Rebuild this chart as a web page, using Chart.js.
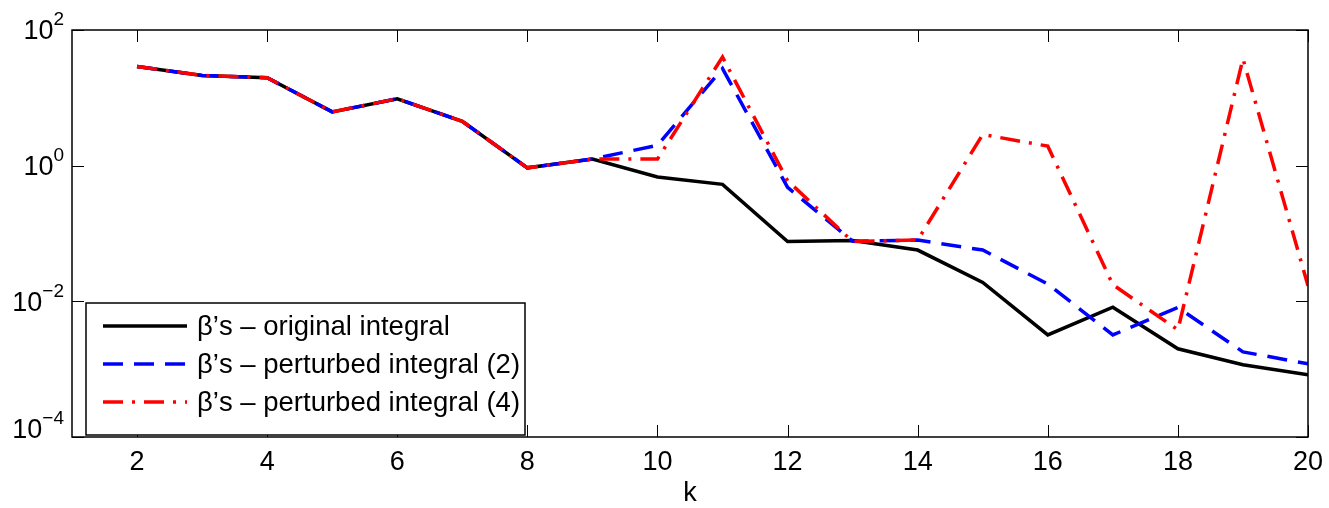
<!DOCTYPE html>
<html>
<head>
<meta charset="utf-8">
<script src="https://cdn.jsdelivr.net/npm/chart.js@4/dist/chart.umd.min.js"></script>
<style>
  body { margin: 0; background: #fff; }
  #wrap { width: 1329px; height: 508px; }
</style>
</head>
<body>
<div id="wrap"><canvas id="betaChart" width="1329" height="508"></canvas></div>
<script>
// Datos
const kValores = [2, 3, 4, 5, 6, 7, 8, 9, 10, 11, 12, 13, 14, 15, 16, 17, 18, 19, 20];
const betaOriginal = [29, 21.4, 19.8, 6.2, 9.7, 4.5, 0.93, 1.25, 0.68, 0.53, 0.076, 0.079, 0.057, 0.019, 0.0032, 0.0082, 0.002, 0.00116, 0.00083];
const betaPerturbado2 = [29, 21.4, 19.8, 6.2, 9.7, 4.5, 0.93, 1.25, 2.0, 27, 0.48, 0.077, 0.080, 0.057, 0.018, 0.0032, 0.0081, 0.0018, 0.0012];
const betaPerturbado4 = [29, 21.4, 19.8, 6.2, 9.7, 4.5, 0.93, 1.25, 1.25, 40, 0.6, 0.076, 0.080, 2.88, 1.94, 0.0176, 0.0038, 37.7, 0.017];

const ticksX = [2, 4, 6, 8, 10, 12, 14, 16, 18, 20];
const ticksY = [1e-4, 1e-2, 1e0, 1e2];
const exponentesY = ['\u22124', '\u22122', '0', '2'];
const etiquetasLeyenda = ['\u03b2\u2019s \u2013 original integral', '\u03b2\u2019s \u2013 perturbed integral (2)', '\u03b2\u2019s \u2013 perturbed integral (4)'];

const FUENTE = '"Liberation Sans", Arial, Helvetica, sans-serif';

function puntos(valores) {
    return kValores.map((k, i) => ({ x: k, y: valores[i] }));
}

// Dibuja marco, ticks hacia adentro, etiquetas y leyenda
const ejesMatlab = {
    id: 'ejesMatlab',
    afterDraw(chart) {
        const ctx = chart.ctx;
        const area = chart.chartArea;
        const sx = chart.scales.x;
        const sy = chart.scales.y;
        const largo = 12;

        ctx.save();
        ctx.strokeStyle = '#000';
        ctx.lineWidth = 1.5;
        ctx.setLineDash([]);
        ctx.strokeRect(area.left, area.top, area.right - area.left, area.bottom - area.top);

        ctx.lineWidth = 1;
        ctx.beginPath();
        ticksX.forEach(v => {
            const px = Math.round(sx.getPixelForValue(v)) + 0.5;
            ctx.moveTo(px, area.bottom); ctx.lineTo(px, area.bottom - largo);
            ctx.moveTo(px, area.top); ctx.lineTo(px, area.top + largo);
        });
        ticksY.forEach(v => {
            const py = Math.round(sy.getPixelForValue(v)) + 0.5;
            ctx.moveTo(area.left, py); ctx.lineTo(area.left + largo, py);
            ctx.moveTo(area.right, py); ctx.lineTo(area.right - largo, py);
        });
        ctx.stroke();

        // etiquetas eje x
        ctx.fillStyle = '#000';
        ctx.font = '27px ' + FUENTE;
        ctx.textAlign = 'center';
        ctx.textBaseline = 'middle';
        ticksX.forEach(v => {
            ctx.fillText(String(v), sx.getPixelForValue(v), area.bottom + 26);
        });
        ctx.fillText('k', (area.left + area.right) / 2, area.bottom + 57);

        // etiquetas eje y con exponente
        ticksY.forEach((v, i) => {
            let py = sy.getPixelForValue(v) + 2;
            if (i === 0) py -= 8;
            ctx.font = '19px ' + FUENTE;
            const ws = ctx.measureText(exponentesY[i]).width;
            const derecha = area.left - 8;
            ctx.textAlign = 'left';
            ctx.fillText(exponentesY[i], derecha - ws, py - 12);
            ctx.font = '27px ' + FUENTE;
            ctx.textAlign = 'right';
            ctx.fillText('10', derecha - ws, py);
        });

        // leyenda
        const lx = area.left + 14, ly = area.top + 273, lw = 439, lh = 132;
        ctx.fillStyle = '#fff';
        ctx.fillRect(lx, ly, lw, lh);
        ctx.strokeStyle = '#000';
        ctx.lineWidth = 1.5;
        ctx.strokeRect(lx, ly, lw, lh);
        chart.data.datasets.forEach((ds, i) => {
            const fy = ly + 23 + i * 38;
            ctx.strokeStyle = ds.borderColor;
            ctx.lineWidth = ds.borderWidth;
            ctx.setLineDash(ds.borderDash || []);
            ctx.beginPath();
            ctx.moveTo(lx + 17, fy);
            ctx.lineTo(lx + 101, fy);
            ctx.stroke();
            ctx.setLineDash([]);
            ctx.fillStyle = '#000';
            ctx.font = '27.5px ' + FUENTE;
            ctx.textAlign = 'left';
            ctx.fillText(etiquetasLeyenda[i], lx + 111, fy + 1);
        });
        ctx.restore();
    }
};

const ctx = document.getElementById('betaChart').getContext('2d');
const betaChart = new Chart(ctx, {
    type: 'line',
    data: {
        datasets: [{
            label: etiquetasLeyenda[0],
            data: puntos(betaOriginal),
            borderColor: '#000000',
            borderWidth: 3.5,
            pointRadius: 0,
            order: 2
        }, {
            label: etiquetasLeyenda[1],
            data: puntos(betaPerturbado2),
            borderColor: '#0000ff',
            borderWidth: 3.5,
            borderDash: [20, 11],
            pointRadius: 0,
            order: 1
        }, {
            label: etiquetasLeyenda[2],
            data: puntos(betaPerturbado4),
            borderColor: '#ff0000',
            borderWidth: 3.5,
            borderDash: [20, 9, 3, 9],
            pointRadius: 0,
            order: 0
        }]
    },
    options: {
        responsive: false,
        animation: false,
        layout: {
            padding: { left: 72, right: 21, top: 30, bottom: 71 }
        },
        plugins: {
            legend: { display: false },
            tooltip: { enabled: false }
        },
        scales: {
            x: {
                type: 'linear',
                min: 1,
                max: 20,
                display: false
            },
            y: {
                type: 'logarithmic',
                min: 1e-4,
                max: 1e2,
                display: false
            }
        }
    },
    plugins: [ejesMatlab]
});
</script>
</body>
</html>
